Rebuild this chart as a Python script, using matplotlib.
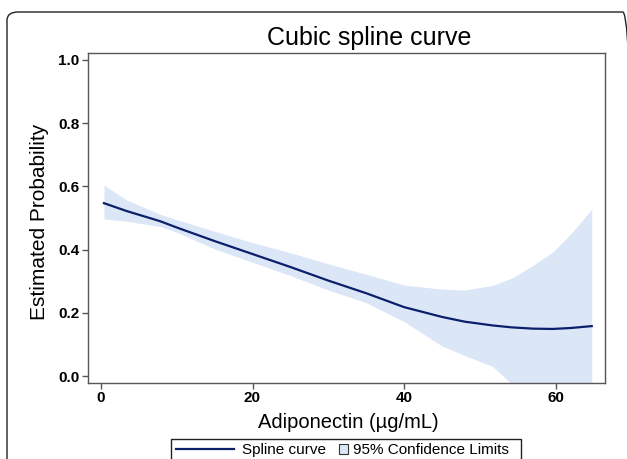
import numpy as np
import matplotlib
matplotlib.use("Agg")
import matplotlib.pyplot as plt
from matplotlib.patches import FancyBboxPatch, Rectangle
from matplotlib.lines import Line2D

plt.rcParams['font.family'] = ['Liberation Sans', 'DejaVu Sans']

# values
adiponectin = [0.4, 3.4, 7.8, 10, 15, 20, 25, 30, 35, 40, 45, 48, 51.7, 54.2, 57, 59.6, 62, 64.75]
spline = [0.547, 0.522, 0.49, 0.470, 0.427, 0.386, 0.345, 0.302, 0.262, 0.218, 0.187, 0.172,
          0.160, 0.154, 0.150, 0.149, 0.152, 0.158]
upper = [0.604, 0.557, 0.512, 0.495, 0.458, 0.422, 0.39, 0.355, 0.322, 0.288, 0.275, 0.272,
         0.287, 0.31, 0.35, 0.392, 0.45, 0.528]
lower = [0.497, 0.49, 0.473, 0.455, 0.402, 0.36, 0.318, 0.272, 0.232, 0.172, 0.095, 0.065,
         0.03, -0.025, -0.07, -0.11, -0.15, -0.2]

x_ticks = [0, 20, 40, 60]
y_ticks = [0.0, 0.2, 0.4, 0.6, 0.8, 1.0]

line_color = '#0b1f6b'
band_color = '#dbe7f7'
spine_color = '#555555'

W, H = 627, 459
fig = plt.figure(figsize=(W / 100, H / 100), dpi=100)


def fx(px):
    return px / W


def fy(py):
    return 1 - py / H


# rounded frame around the figure
frame = FancyBboxPatch((fx(7), fy(470)), fx(634) - fx(7), fy(12) - fy(470),
                       boxstyle="round,pad=0,rounding_size=0.018",
                       transform=fig.transFigure, fill=False, edgecolor='#222222', linewidth=1.0)
fig.patches.append(frame)

ax = fig.add_axes([fx(88), fy(383), fx(605) - fx(88), fy(53) - fy(383)])
ax.fill_between(adiponectin, lower, upper, color=band_color, linewidth=0)
ax.plot(adiponectin, spline, color=line_color, linewidth=1.6)

ax.set_xlim(-1.7, 66.5)
ax.set_ylim(-0.022, 1.022)
ax.set_xticks(x_ticks)
ax.set_yticks(y_ticks)
ax.set_xticklabels([str(v) for v in x_ticks], fontweight='bold', fontsize=11)
ax.set_yticklabels([f"{v:.1f}" for v in y_ticks], fontweight='bold', fontsize=11)
ax.tick_params(direction='out', length=4, width=1, color=spine_color, pad=2)
for s in ax.spines.values():
    s.set_color(spine_color)
    s.set_linewidth(1.0)

fig.text(fx(369), fy(38), "Cubic spline curve", fontsize=18, ha='center', va='center')
fig.text(fx(348), fy(423), "Adiponectin (\u00b5g/mL)", fontsize=14.5, ha='center', va='center')
fig.text(fx(40), fy(222), "Estimated Probability", fontsize=15, ha='center', va='center',
         rotation=90)

# legend box
fig.patches.append(Rectangle((fx(171), fy(470)), fx(521) - fx(171), fy(439) - fy(470),
                             transform=fig.transFigure, fill=False, edgecolor='#222222',
                             linewidth=1.0))
fig.lines.append(Line2D([fx(176), fx(234)], [fy(449), fy(449)], transform=fig.transFigure,
                        color=line_color, linewidth=1.6))
fig.text(fx(242), fy(450), "Spline curve", fontsize=11, ha='left', va='center')
fig.patches.append(Rectangle((fx(339), fy(454)), fx(348) - fx(339), fy(444) - fy(454),
                             transform=fig.transFigure, facecolor=band_color,
                             edgecolor='#333333', linewidth=0.8))
fig.text(fx(353), fy(450), "95% Confidence Limits", fontsize=11, ha='left', va='center')

fig.savefig("out.png", dpi=100)
